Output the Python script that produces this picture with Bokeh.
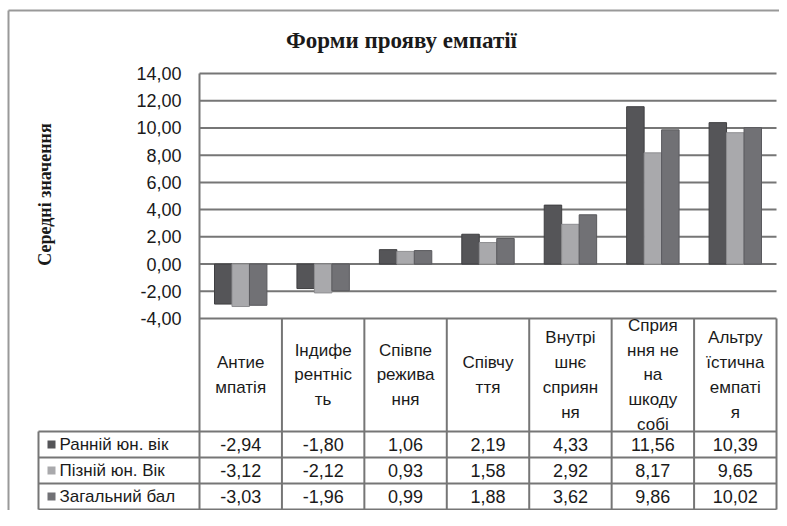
import numpy as np
from bokeh.plotting import figure
from bokeh.models import Range1d, ColumnDataSource
from bokeh.core.properties import value
from bokeh.embed import file_html
from bokeh.resources import INLINE

# ---------------- data ----------------
title_text = "Форми прояву емпатії"
y_label = "Середні значення"
categories = [
    "Антие\nмпатія",
    "Індифе\nрентніс\nть",
    "Співпе\nрежива\nння",
    "Співчу\nття",
    "Внутрі\nшнє\nсприян\nня",
    "Сприя\nння не\nна\nшкоду\nсобі",
    "Альтру\nїстична\nемпаті\nя",
]
series_names = ["Ранній юн. вік", "Пізній юн. Вік", "Загальний бал"]
early = [-2.94, -1.80, 1.06, 2.19, 4.33, 11.56, 10.39]
late = [-3.12, -2.12, 0.93, 1.58, 2.92, 8.17, 9.65]
total = [-3.03, -1.96, 0.99, 1.88, 3.62, 9.86, 10.02]
y_ticks = [-4, -2, 0, 2, 4, 6, 8, 10, 12, 14]

series = [early, late, total]
colors = ["#555558", "#a9a9ac", "#717175"]
edge = ["#3f3f42", "#8e8e91", "#5a5a5e"]

# ---------------- layout helpers (canvas pixels -> data) ----------------
W, H = 779, 510
CAT_W = 82.43
UNIT = 13.611
TOP14 = 73  # pixel row of the 14,00 gridline


def X(px):
    return -0.5 + (px - 199) / CAT_W


def Y(py):
    return 14 - (py - TOP14) / UNIT


p = figure(width=W, height=H, output_backend="svg", toolbar_location=None,
           x_range=Range1d(X(0), X(W)), y_range=Range1d(Y(H), Y(0)),
           x_axis_type=None, y_axis_type=None, min_border=0)
p.outline_line_color = None
p.background_fill_color = "white"
p.border_fill_color = "white"

FONT = value("Liberation Sans")
SERIF = value("Liberation Serif")
LINE_C = "#767676"
TXT = "#1a1a1a"
n = len(categories)
xs = np.arange(n)

# gridlines
p.segment(x0=[-0.5] * len(y_ticks), x1=[n - 0.5] * len(y_ticks), y0=y_ticks, y1=y_ticks,
          line_color=LINE_C, line_width=2)

# bars
bw = 0.212
offsets = [-bw, 0.0, bw]
for vals, off, c, e in zip(series, offsets, colors, edge):
    src = ColumnDataSource(dict(x=xs + off, top=vals))
    p.vbar(x="x", top="top", bottom=0, width=bw, source=src,
           fill_color=c, line_color=e, line_width=1)

# y tick labels
p.text(x=[X(181)] * len(y_ticks), y=y_ticks,
       text=[f"{t:.2f}".replace(".", ",") for t in y_ticks],
       text_align="right", text_baseline="middle", text_font=FONT,
       text_font_size="18px", text_color=TXT)

# table geometry
head_top = Y(318)
head_bot = Y(431)
row_lines = [Y(431), Y(457), Y(483), Y(509)]
x_leg = X(38)

# vertical lines
p.segment(x0=[-0.5], x1=[-0.5], y0=[14], y1=[row_lines[-1]], line_color=LINE_C, line_width=2)
bx = [i + 0.5 for i in range(n)]
p.segment(x0=bx, x1=bx, y0=[head_top] * n, y1=[row_lines[-1]] * n,
          line_color=LINE_C, line_width=2)
p.segment(x0=[x_leg], x1=[x_leg], y0=[row_lines[0]], y1=[row_lines[-1]],
          line_color=LINE_C, line_width=2)
# horizontal row lines
p.segment(x0=[x_leg] * 4, x1=[n - 0.5] * 4, y0=row_lines, y1=row_lines,
          line_color=LINE_C, line_width=2)

# header category labels
p.text(x=list(xs), y=[(head_top + head_bot) / 2] * n, text=categories,
       text_align="center", text_baseline="middle", text_font=FONT,
       text_font_size="17px", text_line_height=1.3, text_color=TXT)

# table values and legend
for r, (vals, c, name) in enumerate(zip(series, colors, series_names)):
    yc = (row_lines[r] + row_lines[r + 1]) / 2
    p.text(x=list(xs), y=[yc] * n, text=[f"{v:.2f}".replace(".", ",") for v in vals],
           text_align="center", text_baseline="middle", text_font=FONT,
           text_font_size="18px", text_color=TXT)
    p.rect(x=[X(51)], y=[yc], width=8 / CAT_W, height=8 / UNIT,
           fill_color=c, line_color=None)
    p.text(x=[X(59)], y=[yc], text=[name], text_align="left", text_baseline="middle",
           text_font=FONT, text_font_size="17px", text_color=TXT)

# title and y label
p.text(x=[X(401)], y=[Y(40)], text=[title_text], text_align="center",
       text_baseline="middle", text_font=SERIF, text_font_style="bold",
       text_font_size="23px", text_color=TXT)
p.text(x=[X(44)], y=[Y(194)], text=[y_label], angle=np.pi / 2, text_align="center",
       text_baseline="middle", text_font=SERIF, text_font_style="bold",
       text_font_size="18px", text_color=TXT)

# outer border (left and top)
p.segment(x0=[X(8), X(8)], x1=[X(W), X(8)], y0=[Y(10), Y(10)], y1=[Y(10), Y(H)],
          line_color="#999999", line_width=2)

open("out.html", "w").write(file_html(p, INLINE))
